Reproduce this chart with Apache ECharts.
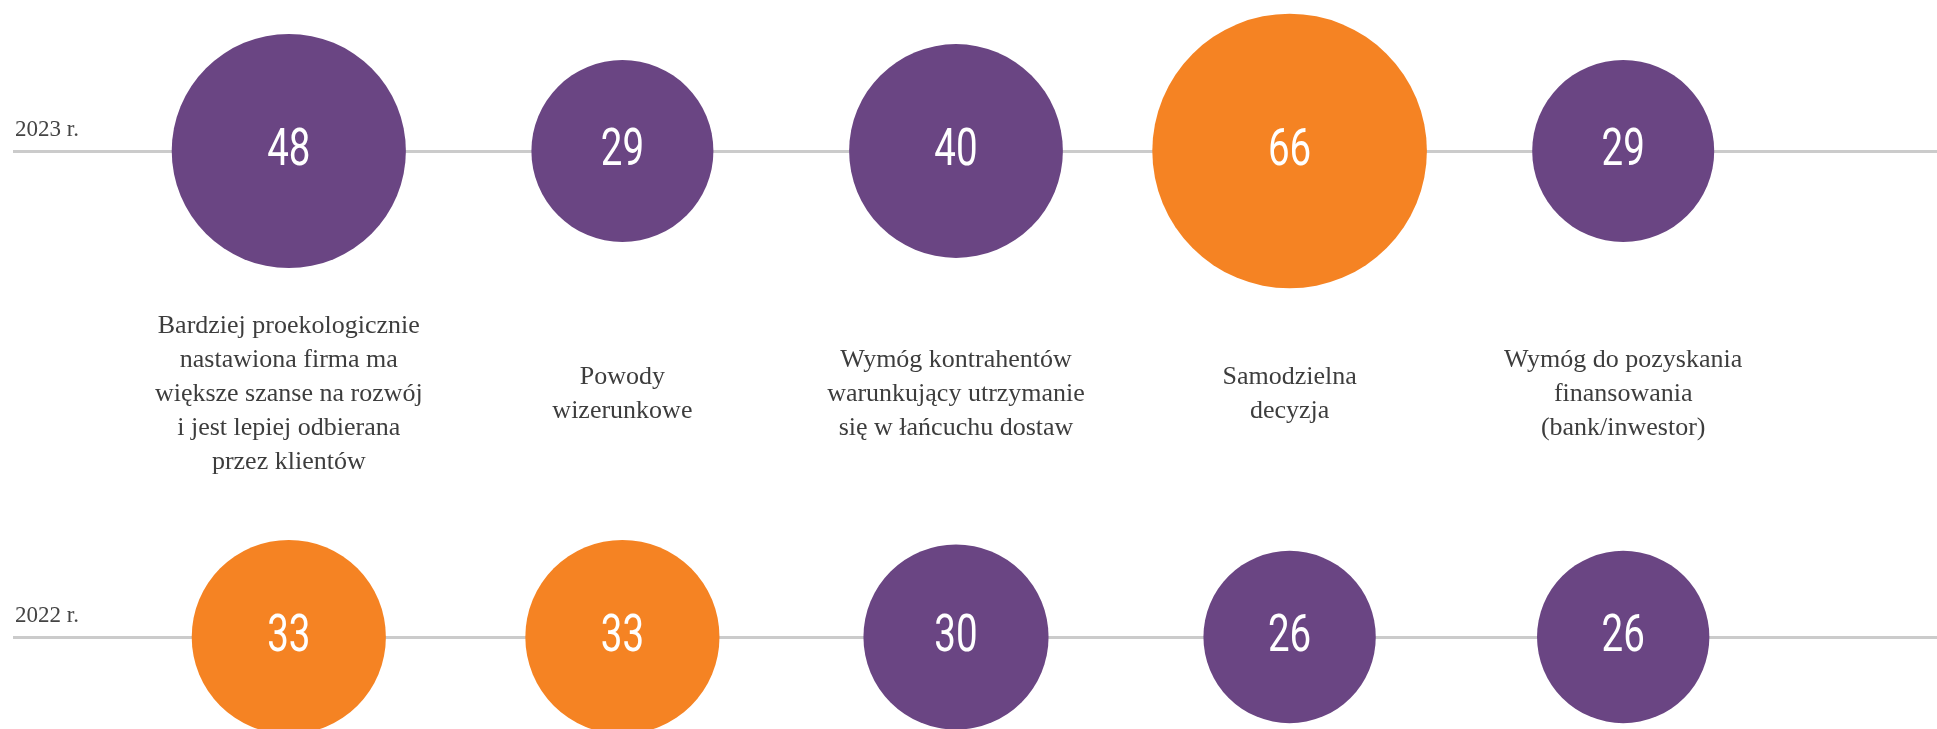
<!DOCTYPE html>
<html>
<head>
<meta charset="utf-8">
<script src="https://cdn.jsdelivr.net/npm/echarts@6.0.0/dist/echarts.min.js"></script>
<style>
  html, body { margin: 0; padding: 0; background: #fff; }
  #main { width: 1937px; height: 729px; }
</style>
</head>
<body>
<div id="main"></div>
<script>
// kategorie (z podziałem na linie jak na wykresie)
var categories = [
  'Bardziej proekologicznie\nnastawiona firma ma\nwiększe szanse na rozwój\ni jest lepiej odbierana\nprzez klientów',
  'Powody\nwizerunkowe',
  'Wymóg kontrahentów\nwarunkujący utrzymanie\nsię w łańcuchu dostaw',
  'Samodzielna\ndecyzja',
  'Wymóg do pozyskania\nfinansowania\n(bank/inwestor)'
]
var years = ['2022 r.', '2023 r.']
var values2023 = [48, 29, 40, 66, 29]
var values2022 = [33, 33, 30, 26, 26]

var purple = '#6a4583'
var orange = '#f58323'
var serif = '"Liberation Serif", "DejaVu Serif", serif'

var chart = echarts.init(document.getElementById('main'))

function rowData(year, values) {
  return values.map(function (v, i) { return [i, year, v] })
}

// koła - pole proporcjonalne do wartości, największa wartość w roku na pomarańczowo
function makeCircles(year, values) {
  var maxVal = Math.max.apply(null, values)
  return {
    type: 'scatter',
    xAxisIndex: 0,
    yAxisIndex: 0,
    data: rowData(year, values),
    symbolSize: function (d) { return 33.8 * Math.sqrt(d[2]) },
    itemStyle: {
      opacity: 1,
      color: function (p) { return p.value[2] === maxVal ? orange : purple }
    },
    emphasis: { disabled: true },
    z: 3
  }
}

// liczby w kołach - wąski krój, więc tekst jest ściśnięty w poziomie
function makeNumbers(year, values) {
  return {
    type: 'custom',
    xAxisIndex: 0,
    yAxisIndex: 0,
    data: rowData(year, values),
    encode: { x: 0, y: 1 },
    silent: true,
    z: 4,
    renderItem: function (params, api) {
      var pt = api.coord([api.value(0), api.value(1)])
      return {
        type: 'text',
        x: pt[0],
        y: pt[1] + 1,
        scaleX: 0.74,
        style: {
          text: String(api.value(2)),
          fill: '#fff',
          fontSize: 52,
          fontWeight: 'normal',
          fontFamily: 'Roboto, sans-serif',
          align: 'center',
          verticalAlign: 'middle'
        }
      }
    }
  }
}

var option = {
  animation: false,
  grid: [
    { left: 122, right: 147, top: 151, bottom: 92 },
    { left: 13, right: 0, top: 151, bottom: 92 }
  ],
  xAxis: [{
    type: 'category',
    gridIndex: 0,
    data: categories,
    position: 'bottom',
    offset: -243,
    axisLine: { show: false },
    axisTick: { show: false },
    splitLine: { show: false },
    axisLabel: {
      interval: 0,
      margin: 0,
      verticalAlign: 'middle',
      lineHeight: 34,
      fontSize: 26,
      color: '#3d3d3d',
      fontFamily: serif
    }
  }, {
    type: 'value',
    gridIndex: 1,
    min: 0,
    max: 1,
    show: false
  }],
  yAxis: [{
    type: 'category',
    gridIndex: 0,
    data: years,
    boundaryGap: false,
    axisLine: { show: false },
    axisTick: { show: false },
    axisLabel: { show: false },
    splitLine: { show: false }
  }, {
    type: 'category',
    gridIndex: 1,
    data: years,
    boundaryGap: false,
    axisLine: { show: false },
    axisTick: { show: false },
    axisLabel: {
      interval: 0,
      align: 'left',
      margin: -2,
      verticalAlign: 'bottom',
      padding: [0, 0, 10, 0],
      fontSize: 23,
      color: '#444',
      fontFamily: serif
    },
    splitLine: {
      show: true,
      interval: 0,
      lineStyle: { color: '#cbcbcb', width: 3 }
    }
  }],
  series: [
    makeCircles('2023 r.', values2023),
    makeCircles('2022 r.', values2022),
    makeNumbers('2023 r.', values2023),
    makeNumbers('2022 r.', values2022)
  ]
}

chart.setOption(option)
</script>
</body>
</html>
